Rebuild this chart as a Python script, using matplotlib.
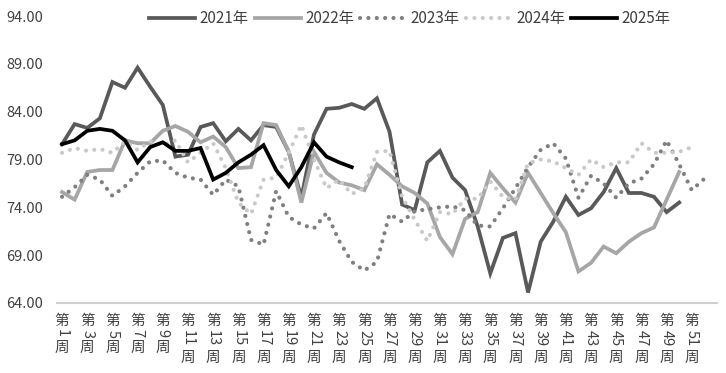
import matplotlib
matplotlib.use("Agg")
import matplotlib.pyplot as plt
import numpy as np

plt.rcParams["font.family"] = ["Noto Sans CJK SC", "DejaVu Sans"]

# weekly values
weeks = np.arange(1, 53)
tick_weeks = list(range(1, 52, 2))
y_ticks = [64, 69, 74, 79, 84, 89, 94]

y2021 = [80.6, 82.7, 82.3, 83.3, 87.1, 86.5, 88.6, 86.6, 84.7, 79.3,
         79.5, 82.4, 82.8, 80.9, 82.2, 81.0, 82.6, 82.4, 79.8, 75.0,
         81.6, 84.3, 84.4, 84.8, 84.3, 85.4, 81.9, 74.3, 73.7, 78.7,
         79.9, 77.1, 75.8, 72.0, 67.1, 70.8, 71.3, 65.1, 70.4, 72.5,
         75.1, 73.2, 73.9, 75.6, 78.1, 75.5, 75.5, 75.1, 73.5, 74.5]
y2022 = [75.6, 74.8, 77.7, 77.9, 77.9, 81.0, 80.7, 80.7, 82.0, 82.5,
         81.9, 80.8, 81.4, 80.3, 78.1, 78.2, 82.8, 82.6, 79.8, 74.5,
         79.8, 77.6, 76.6, 76.3, 75.8, 78.5, 77.4, 76.2, 75.5, 74.4,
         70.9, 69.1, 72.8, 73.5, 77.6, 76.0, 74.5, 77.6, 75.5, 73.4,
         71.4, 67.3, 68.2, 69.9, 69.2, 70.4, 71.3, 71.9, 74.8, 77.7]
y2023 = [75.1, 76.1, 77.4, 76.9, 75.2, 76.2, 77.6, 78.8, 78.9, 77.6,
         77.1, 76.9, 75.3, 76.9, 76.2, 70.6, 70.1, 75.7, 73.0, 72.2,
         71.8, 73.4, 70.5, 68.3, 67.4, 68.3, 73.3, 72.5, 73.6, 73.8,
         74.0, 74.1, 73.7, 72.1, 72.0, 73.9, 76.0, 78.2, 80.0, 80.7,
         79.1, 75.0, 77.3, 76.5, 75.0, 76.5, 77.0, 78.5, 81.0, 78.5,
         75.8, 77.0]
y2024 = [79.7, 80.2, 79.9, 80.1, 79.7, 80.9, 80.0, 80.9, 80.5, 81.0,
         78.7, 79.7, 80.7, 78.1, 74.5, 73.3, 76.9, 77.1, 79.7, 82.6,
         79.0, 76.0, 76.9, 75.4, 76.0, 79.8, 79.9, 75.1, 72.7, 70.5,
         73.5, 73.3, 74.9, 74.9, 76.7, 75.1, 74.8, 78.6, 79.0, 78.8,
         78.1, 77.4, 79.0, 78.2, 78.7, 78.7, 80.7, 79.7, 79.7, 79.8,
         80.3]
y2025 = [80.6, 81.0, 82.0, 82.2, 82.0, 81.0, 78.7, 80.3, 80.8, 79.9,
         79.9, 80.2, 76.9, 77.6, 78.7, 79.5, 80.5, 77.9, 76.2, 78.2,
         80.8, 79.3, 78.7, 78.2]

fig = plt.figure(figsize=(7.26, 3.73), dpi=100)
ax = fig.add_axes([57 / 726, 1 - 303 / 373, 660 / 726, 287 / 373])

# solid lines
ax.plot(weeks[:len(y2021)], y2021, color="#595959", lw=2.7, label="2021年",
        solid_joinstyle="miter")
ax.plot(weeks[:len(y2022)], y2022, color="#a6a6a6", lw=2.7, label="2022年",
        solid_joinstyle="miter")
# round-dot lines
ax.plot(weeks[:len(y2023)], y2023, color="#7f7f7f", lw=3.0, label="2023年",
        linestyle=(0, (0.01, 2.0)), dash_capstyle="round")
ax.plot(weeks[:len(y2024)], y2024, color="#c9c9c9", lw=3.0, label="2024年",
        linestyle=(0, (0.01, 2.0)), dash_capstyle="round")
ax.plot(weeks[:len(y2025)], y2025, color="#000000", lw=2.7, label="2025年",
        solid_joinstyle="miter")

ax.set_ylim(64, 94)
ax.set_xlim(0.6, 53.0)
ax.set_yticks(y_ticks)
ax.set_yticklabels([f"{v:.2f}" for v in y_ticks], fontsize=10.5, color="#404040")
ax.tick_params(axis="y", length=0, pad=10)
ax.set_xticks([])

for side in ["top", "right", "left"]:
    ax.spines[side].set_visible(False)
ax.spines["bottom"].set_color("#d0d0d0")
ax.spines["bottom"].set_linewidth(1.5)

# stacked vertical week labels: 第 / rotated number / 周
for w in tick_weeks:
    num = str(w)
    ax.annotate("第", xy=(w, 64), xytext=(0, -18 * 0.72), textcoords="offset points",
                ha="center", va="center", fontsize=10.5, color="#404040",
                annotation_clip=False)
    num_center = 30.5 if len(num) == 1 else 35.5
    ax.annotate(num, xy=(w, 64), xytext=(0, -num_center * 0.72), textcoords="offset points",
                ha="center", va="center", fontsize=10.5, color="#404040", rotation=-90,
                annotation_clip=False)
    zhou_center = 44.5 if len(num) == 1 else 54.5
    ax.annotate("周", xy=(w, 64), xytext=(0, -zhou_center * 0.72), textcoords="offset points",
                ha="center", va="center", fontsize=10.5, color="#404040",
                annotation_clip=False)

fig.legend(loc="center", bbox_to_anchor=(410 / 726, 1 - 19 / 373), ncol=5, frameon=False,
           fontsize=11, handlelength=3.0, handletextpad=0.3, columnspacing=0.4,
           labelcolor="#404040")

fig.savefig("out.png", dpi=100)
